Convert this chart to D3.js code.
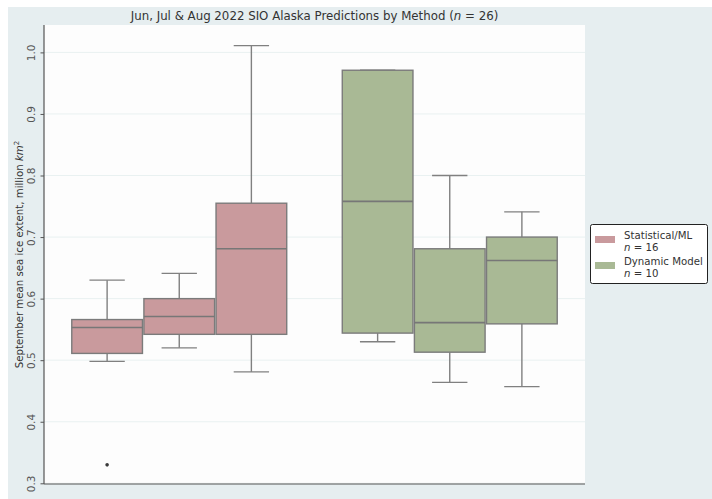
<!DOCTYPE html>
<html>
<head>
<meta charset="utf-8">
<script src="https://cdn.jsdelivr.net/npm/d3@7"></script>
<style>
  html, body { margin: 0; padding: 0; background: #ffffff; }
  svg { display: block; font-family: "DejaVu Sans", sans-serif; }
</style>
</head>
<body>
<svg id="chart" width="712" height="499"></svg>
<script>
// Forecast methods and the monthly submission rounds within each
const methods = ["Statistical/ML", "Dynamic Model"];
const methodCounts = [16, 10];
const months = ["Jun", "Jul", "Aug"];

// Box summary per method (rows) and month (columns), million km²
const whiskerLow = [[0.498, 0.520, 0.481], [0.530, 0.464, 0.457]];
const quartile1  = [[0.511, 0.542, 0.542], [0.544, 0.513, 0.559]];
const medians    = [[0.553, 0.571, 0.681], [0.758, 0.561, 0.662]];
const quartile3  = [[0.566, 0.600, 0.755], [0.971, 0.681, 0.700]];
const whiskerHigh = [[0.630, 0.641, 1.011], [0.971, 0.800, 0.741]];
const outliers   = [[[0.330], [], []], [[], [], []]];

const yTicks = [0.3, 0.4, 0.5, 0.6, 0.7, 0.8, 0.9, 1.0];
const fills = ["#c99a9d", "#a9b995"];

const svg = d3.select("#chart");
const plot = { left: 44, right: 585, top: 25, bottom: 484 };

// figure background
svg.append("rect").attr("x", 8).attr("y", 7).attr("width", 704).attr("height", 492)
  .attr("fill", "#e6eef0");
svg.append("rect").attr("x", plot.left).attr("y", plot.top)
  .attr("width", plot.right - plot.left).attr("height", plot.bottom - plot.top)
  .attr("fill", "#fdfdfd");

const x = d3.scaleBand().domain(methods).range([plot.left, plot.right]).paddingInner(0).paddingOuter(0);
const hueWidth = x.bandwidth() * 0.8;
const xHue = d3.scaleBand().domain(months).range([0, hueWidth]);
const boxW = xHue.bandwidth() * 0.98;

const y = d3.scaleLinear().domain([0.3, 1.0445]).range([plot.bottom - 0.7, plot.top]);

// grid
svg.append("g").selectAll("line").data(yTicks).join("line")
  .attr("x1", plot.left).attr("x2", plot.right)
  .attr("y1", d => y(d)).attr("y2", d => y(d))
  .attr("stroke", "#e9f1f1").attr("stroke-width", 1);

// boxes
const boxes = [];
methods.forEach((m, i) => months.forEach((mo, j) => boxes.push({ i, j, m, mo })));

const g = svg.append("g");
boxes.forEach(b => {
  const cx = x(b.m) + (x.bandwidth() - hueWidth) / 2 + xHue(b.mo) + xHue.bandwidth() / 2;
  const grp = g.append("g");
  const lineC = "#808080";
  // whiskers
  grp.append("line").attr("x1", cx).attr("x2", cx)
    .attr("y1", y(quartile3[b.i][b.j])).attr("y2", y(whiskerHigh[b.i][b.j]))
    .attr("stroke", lineC).attr("stroke-width", 1.4);
  grp.append("line").attr("x1", cx).attr("x2", cx)
    .attr("y1", y(quartile1[b.i][b.j])).attr("y2", y(whiskerLow[b.i][b.j]))
    .attr("stroke", lineC).attr("stroke-width", 1.4);
  [whiskerHigh[b.i][b.j], whiskerLow[b.i][b.j]].forEach(v => {
    grp.append("line").attr("x1", cx - boxW / 4).attr("x2", cx + boxW / 4)
      .attr("y1", y(v)).attr("y2", y(v))
      .attr("stroke", lineC).attr("stroke-width", 1.4);
  });
  // box
  grp.append("rect")
    .attr("x", cx - boxW / 2).attr("width", boxW)
    .attr("y", y(quartile3[b.i][b.j]))
    .attr("height", y(quartile1[b.i][b.j]) - y(quartile3[b.i][b.j]))
    .attr("fill", fills[b.i]).attr("stroke", "#7b7b7b").attr("stroke-width", 1.4);
  // median
  grp.append("line").attr("x1", cx - boxW / 2).attr("x2", cx + boxW / 2)
    .attr("y1", y(medians[b.i][b.j])).attr("y2", y(medians[b.i][b.j]))
    .attr("stroke", "#777777").attr("stroke-width", 1.6);
  // outliers
  grp.selectAll("circle").data(outliers[b.i][b.j]).join("circle")
    .attr("cx", cx).attr("cy", d => y(d)).attr("r", 1.8).attr("fill", "#3a3a3a");
});

// axes
const yAxis = svg.append("g").attr("transform", `translate(${plot.left},0)`)
  .call(d3.axisLeft(y).tickValues(yTicks).tickFormat(d3.format(".1f")).tickSize(3.5).tickPadding(2));
yAxis.select(".domain").remove();
yAxis.selectAll(".tick line").attr("stroke", "#555");
yAxis.selectAll(".tick text")
  .attr("transform", "rotate(-90)")
  .attr("x", 0).attr("y", -9).attr("dy", 0)
  .attr("text-anchor", "middle")
  .attr("font-size", 10.5).attr("fill", "#555").attr("font-family", "DejaVu Sans");

svg.append("line").attr("x1", plot.left).attr("x2", plot.left)
  .attr("y1", plot.top).attr("y2", plot.bottom).attr("stroke", "#555").attr("stroke-width", 1.2);
svg.append("line").attr("x1", plot.left).attr("x2", plot.right)
  .attr("y1", plot.bottom).attr("y2", plot.bottom).attr("stroke", "#555").attr("stroke-width", 1.2);

// y-axis title
const yt = svg.append("text")
  .attr("transform", `translate(23,${(plot.top + plot.bottom) / 2}) rotate(-90)`)
  .attr("text-anchor", "middle").attr("font-size", 10.2).attr("fill", "#333");
yt.append("tspan").text("September mean sea ice extent, million ");
yt.append("tspan").attr("font-style", "italic").text("km");
yt.append("tspan").attr("font-size", 7).attr("dy", -4).text("2");

// title
const tt = svg.append("text").attr("x", (plot.left + plot.right) / 2).attr("y", 20)
  .attr("text-anchor", "middle").attr("font-size", 11.8).attr("fill", "#333");
tt.append("tspan").text("Jun, Jul & Aug 2022 SIO Alaska Predictions by Method (");
tt.append("tspan").attr("font-style", "italic").text("n");
tt.append("tspan").text(" = 26)");

// legend
const lg = svg.append("g").attr("transform", "translate(590,224)");
lg.append("rect").attr("x", 0.5).attr("y", 0.5).attr("width", 117).attr("height", 59).attr("rx", 2)
  .attr("fill", "#ffffff").attr("stroke", "#222").attr("stroke-width", 1);
methods.forEach((m, i) => {
  const top = 7 + i * 26;
  lg.append("rect").attr("x", 5).attr("y", top + 5).attr("width", 20).attr("height", 7)
    .attr("fill", fills[i]);
  lg.append("text").attr("x", 34).attr("y", top + 8).attr("font-size", 10.2).attr("fill", "#333").text(m);
  const nt = lg.append("text").attr("x", 34).attr("y", top + 20).attr("font-size", 10.2).attr("fill", "#333");
  nt.append("tspan").attr("font-style", "italic").text("n");
  nt.append("tspan").text(" = " + methodCounts[i]);
});
</script>
</body>
</html>
